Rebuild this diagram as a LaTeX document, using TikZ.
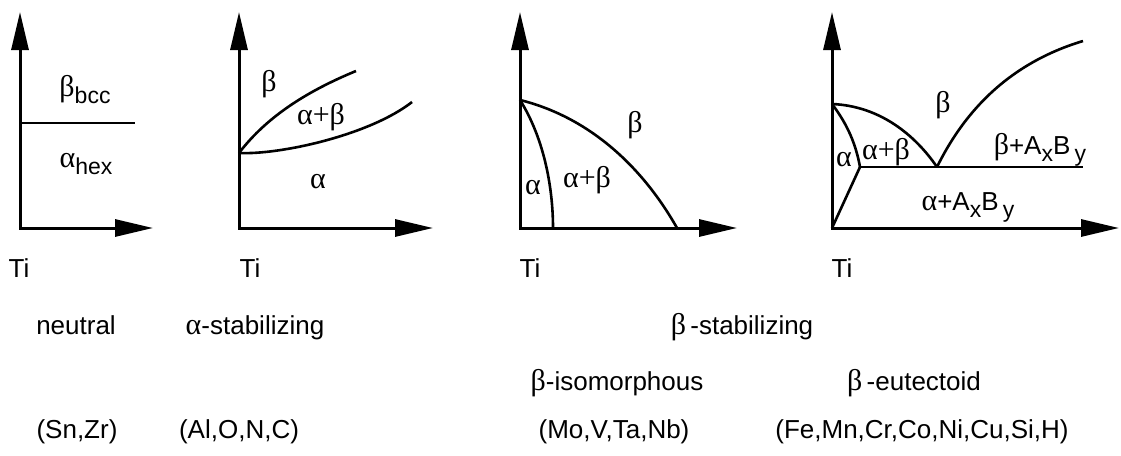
\documentclass[tikz,border=0pt]{standalone}
\usepackage{fontspec}
\setmainfont{Liberation Sans}
\newfontfamily\grkfont{Liberation Serif}
\usetikzlibrary{arrows.meta}
\newcommand{\myA}{{\grkfont\fontsize{30}{30}\selectfont α}}
\newcommand{\myB}{{\grkfont\fontsize{30}{30}\selectfont β}}
\newcommand{\myP}{{\grkfont\fontsize{30}{30}\selectfont +}}
\newcommand{\lsub}[1]{\raisebox{-7pt}{\fontsize{23}{23}\selectfont #1}}
\tikzset{
  axis/.style={line width=3pt, line join=miter,
    {Triangle[length=38pt,width=17pt]}-{Triangle[length=38pt,width=17pt]}},
  curve/.style={line width=2.6pt},
  lbl/.style={font=\fontsize{26}{30}\selectfont, inner sep=0pt},
  captxt/.style={font=\fontsize{26}{30}\selectfont, inner sep=0pt, anchor=base},
}
\begin{document}
\begin{tikzpicture}[x=1pt,y=-1pt]
\useasboundingbox (0,0) rectangle (1121,455);

% ---------- panel 1: neutral
\coordinate (o1) at (20,228);
\draw[axis] (20,12) -- (o1) -- (153,228);
\coordinate (h1a) at (20,123);
\coordinate (h1b) at (135,123);
\draw[curve] (h1a) -- (h1b);
\node[lbl] (b1) at (85,90) {\myB\lsub{bcc}};
\node[lbl] (a1) at (86,164) {\myA\lsub{hex}};
\node[lbl] (ti1) at (19,268) {Ti};

% ---------- panel 2: alpha-stabilizing
\coordinate (o2) at (239,228);
\draw[axis] (239,12) -- (o2) -- (433,228);
\coordinate (p2) at (239,153);
\coordinate (u2) at (356,71);
\coordinate (l2) at (412,102);
\draw[curve] (p2) .. controls (268,115) and (310,90) .. (u2);
\draw[curve] (p2) .. controls (280,155) and (370,135) .. (l2);
\node[lbl] (b2) at (269,84) {\myB};
\node[lbl] (ab2) at (321,117) {\myA\myP\myB};
\node[lbl] (a2) at (318,182) {\myA};
\node[lbl] (ti2) at (250,268) {Ti};

% ---------- panel 3: beta-isomorphous
\coordinate (o3) at (520,228);
\draw[axis] (520,12) -- (o3) -- (737,228);
\coordinate (p3) at (520,100);
\coordinate (e3) at (677,228);
\coordinate (i3) at (553,228);
\draw[curve] (p3) .. controls (600,120) and (650,180) .. (e3);
\draw[curve] (p3) .. controls (545,140) and (553,190) .. (i3);
\node[lbl] (b3) at (635,125) {\myB};
\node[lbl] (ab3) at (587,180) {\myA\myP\myB};
\node[lbl] (a3) at (533,188) {\myA};
\node[lbl] (ti3) at (530,268) {Ti};

% ---------- panel 4: beta-eutectoid
\coordinate (o4) at (832,228);
\draw[axis] (832,12) -- (o4) -- (1119,228);
\coordinate (p4) at (832,104);
\coordinate (q4) at (860,167);
\coordinate (e4) at (937,167);
\coordinate (r4) at (1083,167);
\coordinate (t4) at (1083,41);
\draw[curve] (p4) .. controls (880,106) and (915,135) .. (e4);
\draw[curve] (p4) .. controls (848,125) and (856,145) .. (q4);
\draw[curve] (q4) -- (r4);
\draw[curve] (q4) -- (o4);
\draw[curve] (e4) .. controls (970,100) and (1020,60) .. (t4);
\node[lbl] (b4) at (943,105) {\myB};
\node[lbl] (ab4) at (886,152) {\myA\myP\myB};
\node[lbl] (a4) at (844,160) {\myA};
\node[lbl] (bx4) at (1040,150) {\myB+A\lsub{x}B\,\lsub{y}};
\node[lbl] (ax4) at (968,207) {\myA+A\lsub{x}B\,\lsub{y}};
\node[lbl] (ti4) at (842,268) {Ti};

% ---------- captions
\node[captxt] (c1) at (76,334) {neutral};
\node[captxt] (c2) at (255,334) {\myA-stabilizing};
\node[captxt] (c3) at (742,334) {\myB\,-stabilizing};
\node[captxt] (c4) at (617,390) {\myB-isomorphous};
\node[captxt] (c5) at (914,390) {\myB\,-eutectoid};
\node[captxt] (d1) at (77,438) {(Sn,Zr)};
\node[captxt] (d2) at (239,438) {(Al,O,N,C)};
\node[captxt] (d3) at (614,438) {(Mo,V,Ta,Nb)};
\node[captxt] (d4) at (922,438) {(Fe,Mn,Cr,Co,Ni,Cu,Si,H)};
\end{tikzpicture}
\end{document}
